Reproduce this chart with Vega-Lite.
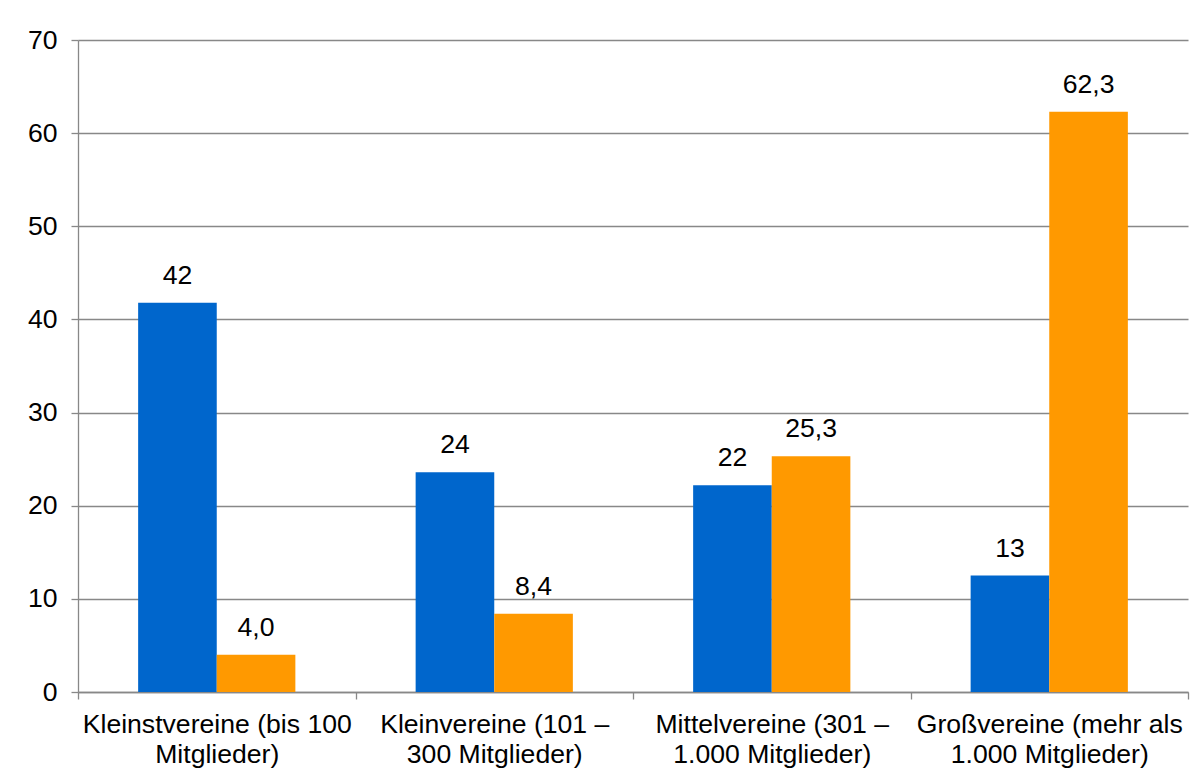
{
  "$schema": "https://vega.github.io/schema/vega-lite/v6.json",
  "autosize": {"type": "none"},
  "padding": {"left": 78, "top": 40, "right": 16, "bottom": 90},
  "width": 1110,
  "height": 652,
  "background": "white",
  "config": {
    "view": {"stroke": null},
    "font": "Liberation Sans",
    "axis": {
      "domainColor": "#888888",
      "tickColor": "#888888",
      "gridColor": "#888888",
      "domainWidth": 1.3,
      "tickWidth": 1.3,
      "gridWidth": 1.3,
      "labelFont": "Liberation Sans",
      "labelFontSize": 26.6,
      "labelColor": "#000000",
      "tickSize": 7,
      "title": null
    }
  },
  "data": {
    "values": [
      {"kategorie": "Kleinstvereine (bis 100\nMitglieder)", "serie": "Vereine", "wert": 41.8, "beschriftung": "42"},
      {"kategorie": "Kleinstvereine (bis 100\nMitglieder)", "serie": "Mitglieder", "wert": 4.0, "beschriftung": "4,0"},
      {"kategorie": "Kleinvereine (101 –\n300 Mitglieder)", "serie": "Vereine", "wert": 23.6, "beschriftung": "24"},
      {"kategorie": "Kleinvereine (101 –\n300 Mitglieder)", "serie": "Mitglieder", "wert": 8.4, "beschriftung": "8,4"},
      {"kategorie": "Mittelvereine (301 –\n1.000 Mitglieder)", "serie": "Vereine", "wert": 22.2, "beschriftung": "22"},
      {"kategorie": "Mittelvereine (301 –\n1.000 Mitglieder)", "serie": "Mitglieder", "wert": 25.3, "beschriftung": "25,3"},
      {"kategorie": "Großvereine (mehr als\n1.000 Mitglieder)", "serie": "Vereine", "wert": 12.5, "beschriftung": "13"},
      {"kategorie": "Großvereine (mehr als\n1.000 Mitglieder)", "serie": "Mitglieder", "wert": 62.3, "beschriftung": "62,3"}
    ]
  },
  "encoding": {
    "x": {
      "field": "kategorie",
      "type": "nominal",
      "sort": null,
      "scale": {"paddingInner": 0, "paddingOuter": 0},
      "axis": {
        "labelAngle": 0,
        "tickBand": "extent",
        "labelPadding": 12,
        "labelLineHeight": 30,
        "labelExpr": "split(datum.label, '\\n')",
        "labelLimit": 400
      }
    },
    "xOffset": {
      "field": "serie",
      "type": "nominal",
      "sort": ["Vereine", "Mitglieder"],
      "scale": {"paddingInner": 0, "paddingOuter": 0.765}
    },
    "y": {
      "field": "wert",
      "type": "quantitative",
      "scale": {"domain": [0, 70], "nice": false},
      "axis": {"values": [0, 10, 20, 30, 40, 50, 60, 70], "labelPadding": 14, "grid": true}
    }
  },
  "layer": [
    {
      "mark": {"type": "bar"},
      "encoding": {
        "color": {
          "field": "serie",
          "type": "nominal",
          "scale": {"domain": ["Vereine", "Mitglieder"], "range": ["#0066CC", "#FF9900"]},
          "legend": null
        }
      }
    },
    {
      "mark": {"type": "text", "baseline": "alphabetic", "dy": -19, "fontSize": 26.6, "color": "#000000", "font": "Liberation Sans"},
      "encoding": {"text": {"field": "beschriftung"}}
    }
  ]
}
